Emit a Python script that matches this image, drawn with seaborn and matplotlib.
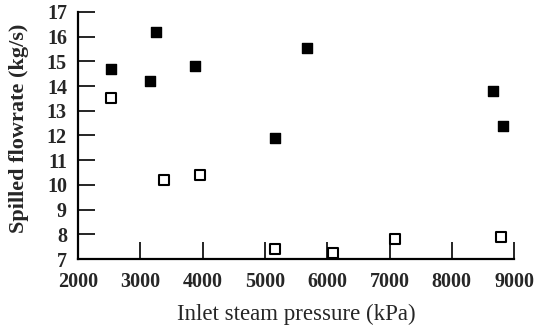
import matplotlib
matplotlib.use("Agg")
import matplotlib.pyplot as plt
import seaborn as sns
import pandas as pd

filled_x = [2525, 3150, 3250, 3880, 5160, 5670, 8660, 8820]
filled_y = [14.7, 14.2, 16.2, 14.8, 11.9, 15.55, 13.8, 12.4]
open_x = [2525, 3380, 3950, 5160, 6090, 7090, 8790]
open_y = [13.5, 10.2, 10.4, 7.4, 7.25, 7.8, 7.9]
x_ticks = [2000, 3000, 4000, 5000, 6000, 7000, 8000, 9000]
y_ticks = [7, 8, 9, 10, 11, 12, 13, 14, 15, 16, 17]

sns.set_theme(style="ticks")
plt.rcParams['font.family'] = ['Liberation Serif', 'DejaVu Serif']

fig = plt.figure(figsize=(5.35, 3.30), dpi=100)
ax = fig.add_axes([0.146, 0.215, 0.815, 0.749])

df_f = pd.DataFrame({"x": filled_x, "y": filled_y})
df_o = pd.DataFrame({"x": open_x, "y": open_y})
sns.scatterplot(data=df_f, x="x", y="y", ax=ax, marker="s", s=50,
                color="black", edgecolor="black", linewidth=1.0, zorder=3)
sns.scatterplot(data=df_o, x="x", y="y", ax=ax, marker="s", s=50,
                facecolor="white", edgecolor="black", linewidth=1.5, zorder=3)

ax.set_xlim(2000, 9000)
ax.set_ylim(7, 17)
ax.set_xticks(x_ticks)
ax.set_yticks(y_ticks)
ax.set_xticklabels([str(t) for t in x_ticks], fontsize=14.5, fontweight="bold")
ax.set_yticklabels([str(t) for t in y_ticks], fontsize=14.5, fontweight="bold")
ax.tick_params(axis="x", direction="in", length=12, width=1.2, color="black", pad=9)
ax.tick_params(axis="y", direction="in", length=12, width=1.2, color="black", pad=8)
for s in ["top", "right"]:
    ax.spines[s].set_visible(False)
for s in ["left", "bottom"]:
    ax.spines[s].set_linewidth(1.6)
    ax.spines[s].set_color("black")
ax.set_xlabel("Inlet steam pressure (kPa)", fontsize=16.5, labelpad=9)
ax.set_ylabel("Spilled flowrate (kg/s)", fontsize=16, fontweight="bold")
ax.yaxis.set_label_coords(-0.112, 0.53)

fig.savefig("out.png", dpi=100)
